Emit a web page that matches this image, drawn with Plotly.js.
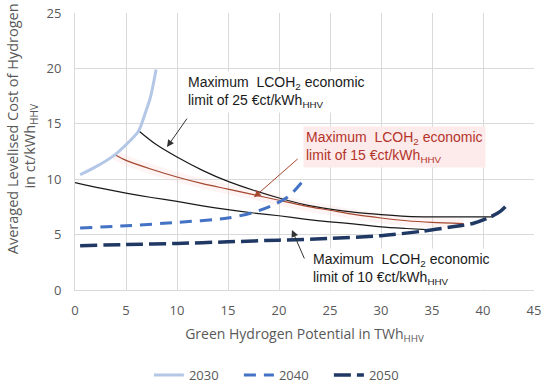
<!DOCTYPE html>
<html><head><meta charset="utf-8">
<script src="https://cdn.plot.ly/plotly-3.0.1.min.js"></script>
<style>html,body{margin:0;padding:0;background:#fff;} #chart{width:550px;height:390px;}</style>
</head><body><div id="chart"></div>
<script>
// Supply curves (x: TWh_HHV, y: ct/kWh_HHV)
const x2030 = [0.5, 2.2, 3.9, 5.1, 6.2, 6.9, 7.4, 7.95];
const y2030 = [10.4, 11.2, 12.2, 13.2, 14.3, 16.0, 17.4, 19.9];
const x2040 = [0.5, 5, 10, 15, 17.5, 19.5, 21, 22.3];
const y2040 = [5.6, 5.8, 6.1, 6.5, 7.0, 7.7, 8.5, 9.8];
const x2050 = [0.5, 5, 10, 15, 20, 25, 30, 34, 37, 39, 40.5, 41.7, 42.6];
const y2050 = [4.0, 4.1, 4.2, 4.35, 4.5, 4.65, 4.9, 5.3, 5.7, 6.0, 6.5, 7.1, 7.9];
// Economic limit curves
const xLim25 = [6.2, 8, 10, 12.5, 15, 17.5, 20, 22.5, 25, 27.5, 30, 32.5, 35, 38, 41];
const yLim25 = [14.4, 13.1, 12.0, 10.8, 9.8, 9.0, 8.3, 7.7, 7.3, 7.0, 6.8, 6.65, 6.6, 6.6, 6.6];
const xLim15 = [3.9, 5, 7.5, 10, 12.5, 15, 17.5, 20, 22.5, 25, 27.5, 30, 32.5, 35, 38.1];
const yLim15 = [12.2, 11.7, 10.9, 10.2, 9.6, 9.1, 8.6, 8.1, 7.6, 7.2, 6.8, 6.5, 6.25, 6.1, 6.0];
const xLim10 = [0, 2.5, 5, 7.5, 10, 12.5, 15, 17.5, 20, 22.5, 25, 27.5, 30, 32.5, 34.5];
const yLim10 = [9.7, 9.2, 8.75, 8.35, 8.0, 7.6, 7.25, 6.95, 6.7, 6.4, 6.15, 5.95, 5.7, 5.55, 5.45];
const legendNames = ['2030', '2040', '2050'];
const xTicks = [0, 5, 10, 15, 20, 25, 30, 35, 40, 45];
const yTicks = [0, 5, 10, 15, 20, 25];

const sp = {shape: 'spline', smoothing: 0.8};
const traces = [
  {x: xLim15, y: yLim15, mode: 'lines', line: Object.assign({color: 'rgba(250,205,205,0.22)', width: 10}, sp), showlegend: false, hoverinfo: 'skip'},
  {x: xLim25, y: yLim25, mode: 'lines', line: Object.assign({color: '#1a1a1a', width: 1.2}, sp), showlegend: false},
  {x: xLim15, y: yLim15, mode: 'lines', line: Object.assign({color: '#a5472f', width: 1.2}, sp), showlegend: false},
  {x: xLim10, y: yLim10, mode: 'lines', line: Object.assign({color: '#1a1a1a', width: 1.2}, sp), showlegend: false},
  {x: x2030, y: y2030, name: legendNames[0], mode: 'lines', line: Object.assign({color: '#b4c7e7', width: 3}, sp)},
  {x: x2040, y: y2040, name: legendNames[1], mode: 'lines', line: Object.assign({color: '#4472c4', width: 3, dash: '12px,8px'}, sp)},
  {x: x2050, y: y2050, name: legendNames[2], mode: 'lines', line: Object.assign({color: '#203864', width: 3.5, dash: '17px,6px'}, sp)}
];

const aFont = {family: 'Liberation Sans, Arial, sans-serif', size: 14, color: '#1a1a1a'};
const gFont = {family: 'Open Sans, sans-serif', size: 13, color: '#595959'};
const tFont = {family: 'Open Sans, sans-serif', size: 14, color: '#595959'};
const yFont = {family: 'Open Sans, sans-serif', size: 14.5, color: '#595959'};
const annotations = [
  {x: 10.8, y: 17.9, xref: 'x', yref: 'y', xanchor: 'left', yanchor: 'middle', align: 'left', showarrow: false,
   text: 'Maximum\u00a0 LCOH<sub>2</sub> economic<br>limit of 25 €ct/kWh<sub>HHV</sub>', font: aFont, bgcolor: '#ffffff', borderpad: 2},
  {x: 22.35, y: 12.9, xref: 'x', yref: 'y', xanchor: 'left', yanchor: 'middle', align: 'left', showarrow: false,
   text: 'Maximum\u00a0 LCOH<sub>2</sub> economic<br>limit of 15 €ct/kWh<sub>HHV</sub>', font: Object.assign({}, aFont, {color: '#b4342a'}), bgcolor: '#fdeaea', borderpad: 2},
  {x: 23.05, y: 1.9, xref: 'x', yref: 'y', xanchor: 'left', yanchor: 'middle', align: 'left', showarrow: false,
   text: 'Maximum\u00a0 LCOH<sub>2</sub> economic<br>limit of 10 €ct/kWh<sub>HHV</sub>', font: aFont, bgcolor: '#ffffff', borderpad: 2},
  {x: 9.02, y: 12.9, ax: 11.08, ay: 15.6, xref: 'x', yref: 'y', axref: 'x', ayref: 'y', text: '', showarrow: true,
   arrowhead: 2, arrowsize: 1.4, arrowwidth: 1, arrowcolor: '#333333'},
  {x: 17.54, y: 8.36, ax: 21.98, ay: 11.95, xref: 'x', yref: 'y', axref: 'x', ayref: 'y', text: '', showarrow: true,
   arrowhead: 2, arrowsize: 1.4, arrowwidth: 1, arrowcolor: '#a5472f'},
  {x: 21.27, y: 5.42, ax: 22.55, ay: 2.71, xref: 'x', yref: 'y', axref: 'x', ayref: 'y', text: '', showarrow: true,
   arrowhead: 2, arrowsize: 1.4, arrowwidth: 1, arrowcolor: '#333333'},
  {x: -0.137, y: 0.581, xref: 'paper', yref: 'paper', xanchor: 'center', yanchor: 'middle', textangle: -90, showarrow: false,
   text: 'Averaged Levelised Cost of Hydrogen', font: yFont},
  {x: -0.097, y: 0.523, xref: 'paper', yref: 'paper', xanchor: 'center', yanchor: 'middle', textangle: -90, showarrow: false,
   text: 'in ct/kWh<sub>HHV</sub>', font: yFont}
];

const layout = {
  width: 550, height: 390,
  margin: {l: 75, r: 16, t: 13, b: 100, autoexpand: false},
  paper_bgcolor: '#ffffff', plot_bgcolor: '#ffffff',
  font: gFont,
  showlegend: true,
  legend: {orientation: 'h', x: 0.161, xanchor: 'left', y: -0.307, yanchor: 'middle', font: gFont,
           bgcolor: 'rgba(0,0,0,0)', entrywidth: 45},
  xaxis: {range: [0, 45], tickvals: xTicks, ticktext: xTicks.map(String), showgrid: true, gridcolor: '#d9d9d9', gridwidth: 1,
          zeroline: false, showline: true, linecolor: '#d9d9d9', mirror: false, ticks: '', tickfont: gFont, ticklabelstandoff: 8,
          title: {text: 'Green Hydrogen Potential in TWh<sub>HHV</sub>', font: tFont, standoff: 11}},
  yaxis: {range: [0, 25], tickvals: yTicks, ticktext: yTicks.map(String), showgrid: true, gridcolor: '#d9d9d9', gridwidth: 1,
          zeroline: false, showline: true, linecolor: '#d9d9d9', ticks: '', tickfont: gFont, ticklabelstandoff: 10},
  annotations: annotations
};
Plotly.newPlot('chart', traces, layout, {displayModeBar: false, staticPlot: true});
</script></body></html>
